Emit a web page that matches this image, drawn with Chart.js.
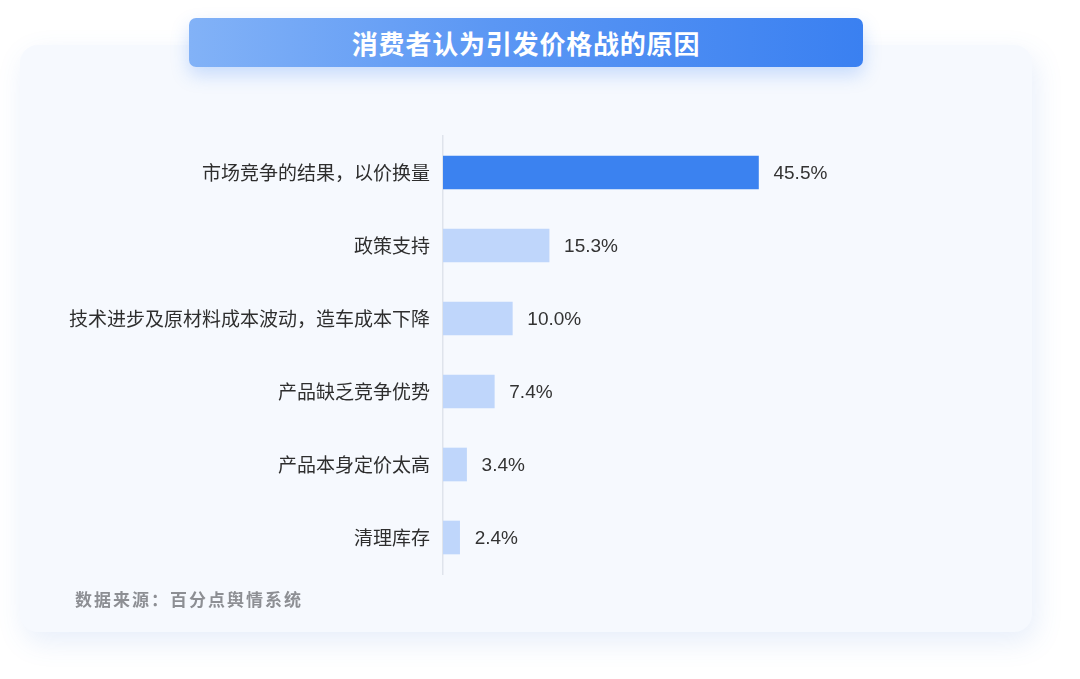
<!DOCTYPE html>
<html>
<head>
<meta charset="utf-8">
<script src="https://cdn.jsdelivr.net/npm/chart.js@4.4.0/dist/chart.umd.min.js"></script>
<style>
  html, body { margin:0; padding:0; width:1080px; height:679px; background:#ffffff; overflow:hidden; }
  #card { position:absolute; left:20px; top:45px; width:1012px; height:587px; background:#f6f9fe;
          border-radius:18px; box-shadow: 4px 10px 28px rgba(70,120,220,0.13); }
  #title { position:absolute; left:189px; top:18px; width:674px; height:49px; border-radius:7px;
           background:linear-gradient(90deg,#82b2f7 0%,#5b97f4 45%,#3a80f1 100%);
           box-shadow:0 8px 18px rgba(59,130,246,0.25);
           color:#fff; font-family:"Noto Sans CJK SC",sans-serif; font-weight:bold; font-size:26px;
           line-height:49px; text-align:center; letter-spacing:0.8px; }
  #source { position:absolute; left:75px; top:587px; font-family:"Noto Sans CJK SC",sans-serif;
            font-weight:bold; font-size:17px; letter-spacing:2px; color:#8d8f94; line-height:24px; }
  #wrap { position:absolute; left:0; top:0; width:1080px; height:679px; }
</style>
</head>
<body>
<div id="card"></div>
<div id="title">消费者认为引发价格战的原因</div>
<div id="wrap"><canvas id="c"></canvas></div>
<div id="source">数据来源：百分点舆情系统</div>
<script>
const categories = ["市场竞争的结果，以价换量", "政策支持", "技术进步及原材料成本波动，造车成本下降", "产品缺乏竞争优势", "产品本身定价太高", "清理库存"];
const values = [45.5, 15.3, 10.0, 7.4, 3.4, 2.4];
const barColors = ["#3b82f0", "#bfd6fb", "#bfd6fb", "#bfd6fb", "#bfd6fb", "#bfd6fb"];

const valueLabels = {
  id: 'valueLabels',
  afterDatasetsDraw(chart) {
    const ctx = chart.ctx;
    const meta = chart.getDatasetMeta(0);
    ctx.save();
    ctx.font = '19px "Liberation Sans", "Noto Sans CJK SC", sans-serif';
    ctx.fillStyle = '#333333';
    ctx.textAlign = 'left';
    ctx.textBaseline = 'middle';
    meta.data.forEach((el, i) => {
      ctx.fillText(values[i].toFixed(1) + '%', el.x + 15, el.y + 1);
    });
    ctx.restore();
  }
};

new Chart(document.getElementById('c'), {
  type: 'bar',
  data: {
    labels: categories,
    datasets: [{ data: values, backgroundColor: barColors, borderWidth: 0, barThickness: 33 }]
  },
  options: {
    indexAxis: 'y',
    responsive: true,
    maintainAspectRatio: false,
    animation: false,
    layout: { padding: { left: 0, right: 221, top: 136, bottom: 105 } },
    plugins: { legend: { display: false }, tooltip: { enabled: false } },
    scales: {
      x: { display: false, min: 0, max: 60 },
      y: {
        grid: { display: false, drawTicks: false },
        border: { display: true, color: '#dfe4ec', width: 1.5 },
        ticks: { color: '#2e2e2e', padding: 13, font: { size: 19, family: '"Noto Sans CJK SC", sans-serif' } },
        afterFit(scale) { scale.width = 443; }
      }
    }
  },
  plugins: [valueLabels]
});
</script>
</body>
</html>
